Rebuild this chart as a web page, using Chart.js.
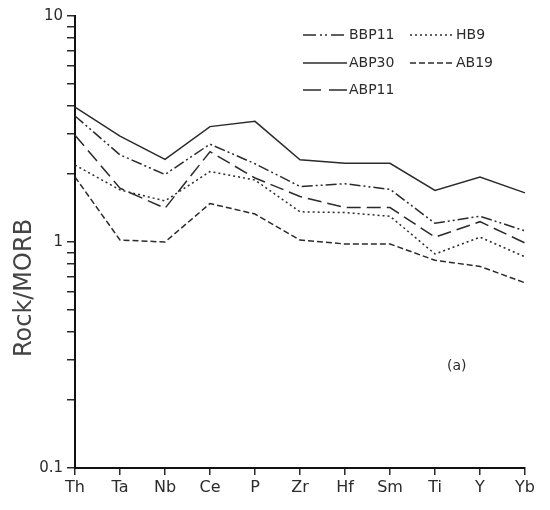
<!DOCTYPE html>
<html>
<head>
<meta charset="utf-8">
<script src="https://cdn.jsdelivr.net/npm/chart.js@4/dist/chart.umd.min.js"></script>
<style>
  html, body { margin: 0; padding: 0; background: #fff; }
  #wrap { position: relative; width: 550px; height: 510px; }
</style>
</head>
<body>
<div id="wrap"><canvas id="c" width="550" height="510"></canvas></div>
<script>
  // elements along the x axis
  const elements = ['Th', 'Ta', 'Nb', 'Ce', 'P', 'Zr', 'Hf', 'Sm', 'Ti', 'Y', 'Yb'];

  // Rock/MORB values
  const abp30 = [3.95, 2.94, 2.32, 3.24, 3.42, 2.31, 2.23, 2.23, 1.69, 1.94, 1.65];
  const bbp11 = [3.61, 2.43, 1.99, 2.71, 2.22, 1.76, 1.81, 1.71, 1.21, 1.30, 1.12];
  const abp11 = [2.97, 1.73, 1.41, 2.51, 1.92, 1.59, 1.42, 1.42, 1.05, 1.23, 0.99];
  const hb9   = [2.19, 1.70, 1.52, 2.05, 1.88, 1.36, 1.35, 1.30, 0.885, 1.05, 0.86];
  const ab19  = [1.94, 1.02, 1.00, 1.48, 1.33, 1.02, 0.98, 0.98, 0.83, 0.78, 0.66];

  // y ticks: full log ladder, labels only on decades
  const yTicks = [0.1, 0.2, 0.3, 0.4, 0.5, 0.6, 0.7, 0.8, 0.9, 1, 2, 3, 4, 5, 6, 7, 8, 9, 10];
  const yLabels = { '0.1': '0.1', '1': '1', '10': '10' };

  const INK = '#2b2b2b';
  const FONT = '"DejaVu Sans", "Liberation Sans", sans-serif';

  // dash = line on the plot, key = dash used in the legend sample
  const series = [
    { label: 'BBP11', data: bbp11, dash: [11, 3, 2, 3, 2, 3], key: [13, 4, 2, 3, 2, 4] },
    { label: 'HB9', data: hb9, dash: [2, 3], key: [2, 3] },
    { label: 'ABP30', data: abp30, dash: [], key: [] },
    { label: 'AB19', data: ab19, dash: [6, 3], key: [6, 3] },
    { label: 'ABP11', data: abp11, dash: [14, 6], key: [18, 8] },
  ];

  /* hand-drawn style legend, axis title and "(a)" tag */
  const paperPlugin = {
    id: 'paperLegend',
    afterDraw(chart) {
      const ctx = chart.ctx;
      const rows = [
        { s: series[0], x: 303, y: 35 }, { s: series[1], x: 410, y: 35 },
        { s: series[2], x: 303, y: 63 }, { s: series[3], x: 410, y: 63 },
        { s: series[4], x: 303, y: 90 },
      ];
      ctx.save();
      ctx.font = '14px ' + FONT;
      ctx.fillStyle = INK;
      ctx.textBaseline = 'middle';
      rows.forEach((r) => {
        ctx.strokeStyle = INK; ctx.lineWidth = 1.5;
        ctx.setLineDash(r.s.key);
        ctx.beginPath(); ctx.moveTo(r.x, r.y); ctx.lineTo(r.x + 44, r.y); ctx.stroke();
        ctx.setLineDash([]);
        ctx.fillText(r.s.label, r.x + 46, r.y);
      });
      ctx.fillText('(a)', 447, 366);
      // y axis title, sits lower than the axis middle in the original
      ctx.translate(25, 288);
      ctx.rotate(-Math.PI / 2);
      ctx.textAlign = 'center';
      ctx.fillStyle = '#444';
      ctx.font = '24px ' + FONT;
      ctx.fillText('Rock/MORB', 0, 0);
      ctx.restore();
    },
  };

  new Chart(document.getElementById('c'), {
    type: 'line',
    data: {
      labels: elements,
      datasets: series.map((s) => ({
        label: s.label, data: s.data, borderColor: INK, borderWidth: 1.5,
        borderDash: s.dash, pointRadius: 0, tension: 0, fill: false,
      })),
    },
    options: {
      responsive: false, animation: false,
      layout: { padding: { top: 16, right: 25, left: 0, bottom: 0 } },
      plugins: { legend: { display: false }, tooltip: { enabled: false } },
      scales: {
        x: {
          offset: false,
          grid: { drawOnChartArea: false, drawTicks: true, tickLength: 7, color: INK, lineWidth: 1.5 },
          border: { display: true, color: '#111', width: 2 },
          ticks: { color: INK, font: { size: 16, family: FONT }, padding: 3, maxRotation: 0, autoSkip: false },
          afterFit: (s) => { s.height = 42; },
        },
        y: {
          type: 'logarithmic', min: 0.1, max: 10,
          afterBuildTicks: (s) => { s.ticks = yTicks.map((v) => ({ value: v })); },
          grid: { drawOnChartArea: false, drawTicks: true, tickLength: 8, color: INK, lineWidth: 1.5 },
          border: { display: true, color: '#111', width: 2 },
          ticks: {
            color: INK, font: { size: 15, family: FONT }, padding: 4, autoSkip: false,
            callback: (v) => yLabels[String(v)] || '',
          },
          afterFit: (s) => { s.width = 75; },
        },
      },
    },
    plugins: [paperPlugin],
  });
</script>
</body>
</html>
